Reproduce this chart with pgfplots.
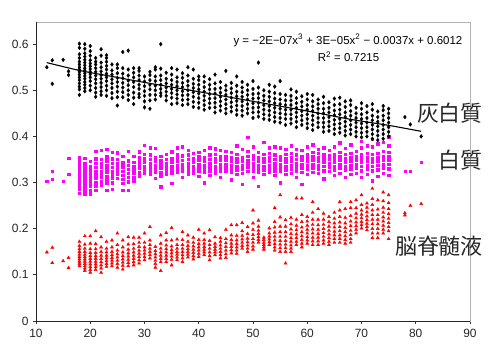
\documentclass[border=0pt]{standalone}
\usepackage{pgfplots}
\pgfplotsset{compat=1.18}
\usepackage{fontspec}
\setmainfont{Liberation Sans}
\newfontfamily\jp{Noto Sans CJK JP}
\definecolor{mag}{RGB}{255,0,255}
\definecolor{rd}{RGB}{255,0,0}
\begin{document}
\begin{tikzpicture}
\path[use as bounding box] (-36bp,-31bp) rectangle (464bp,321bp);
\begin{axis}[
  scale only axis, width=434bp, height=299bp,
  xmin=10, xmax=90, ymin=0, ymax=0.648,
  xtick={10,20,...,90}, ytick={0,0.1,0.2,0.3,0.4,0.5,0.6},
  yticklabel style={/pgf/number format/fixed,/pgf/number format/precision=1},
  /pgf/number format/assume math mode=true,
  tick label style={font=\fontsize{12}{14}\selectfont, black!85},
  xtick pos=left, ytick pos=left, tick align=outside,
  major tick length=3bp, tick style={black!80, line width=0.8pt},
  axis line style={black!30, line width=0.8pt},
  xticklabel style={yshift=-2bp},
  yticklabel style={xshift=-1bp},
  clip=false,
]
\addplot[only marks, mark=square*, mark size=1.2pt, color=mag] coordinates {
(12,.303)(13,.325)(13,.307)(15,.303)(16,.353)(16,.318)
(18,.277)(18,.285)(18,.292)(18,.299)(18,.306)(18,.312)(18,.318)(18,.324)(18,.330)(18,.337)(18,.345)(18,.354)
(19,.276)(19,.283)(19,.290)(19,.297)(19,.304)(19,.310)(19,.316)(19,.322)(19,.328)(19,.334)(19,.341)(19,.353)
(20,.276)(20,.284)(20,.292)(20,.300)(20,.307)(20,.314)(20,.320)(20,.327)(20,.334)(20,.346)
(21,.284)(21,.293)(21,.301)(21,.309)(21,.317)(21,.325)(21,.333)(21,.342)(21,.352)(21,.368)
(22,.295)(22,.303)(22,.311)(22,.318)(22,.325)(22,.333)(22,.341)(22,.350)(22,.370)
(23,.283)(23,.298)(23,.306)(23,.314)(23,.322)(23,.330)(23,.338)(23,.347)(23,.356)(23,.372)
(24,.286)(24,.300)(24,.309)(24,.317)(24,.325)(24,.333)(24,.342)(24,.352)(24,.366)
(25,.310)(25,.318)(25,.326)(25,.334)(25,.342)(25,.350)(25,.365)
(26,.284)(26,.298)(26,.307)(26,.316)(26,.325)(26,.334)(26,.343)(26,.357)
(27,.284)(27,.302)(27,.311)(27,.320)(27,.329)(27,.338)(27,.347)(27,.368)
(28,.304)(28,.312)(28,.320)(28,.328)(28,.336)(28,.344)(28,.357)
(29,.315)(29,.323)(29,.331)(29,.339)(29,.347)(29,.355)(29,.367)
(30,.320)(30,.328)(30,.336)(30,.344)(30,.352)(30,.362)(30,.381)
(31,.318)(31,.326)(31,.334)(31,.342)(31,.350)(31,.360)(31,.376)
(32,.310)(32,.322)(32,.330)(32,.338)(32,.346)(32,.354)(32,.374)
(33,.291)(33,.315)(33,.323)(33,.331)(33,.339)(33,.347)(33,.357)
(34,.318)(34,.326)(34,.334)(34,.342)(34,.350)(34,.362)
(35,.299)(35,.320)(35,.328)(35,.336)(35,.344)(35,.352)(35,.367)
(36,.322)(36,.330)(36,.338)(36,.346)(36,.354)(36,.362)(36,.376)
(37,.312)(37,.324)(37,.332)(37,.340)(37,.348)(37,.358)(37,.378)
(38,.318)(38,.326)(38,.334)(38,.342)(38,.350)(38,.360)(38,.370)
(39,.320)(39,.328)(39,.336)(39,.344)(39,.352)(39,.364)
(40,.314)(40,.324)(40,.332)(40,.340)(40,.348)(40,.356)(40,.366)
(41,.300)(41,.322)(41,.330)(41,.338)(41,.346)(41,.354)(41,.370)
(42,.316)(42,.326)(42,.334)(42,.342)(42,.350)(42,.360)(42,.376)
(43,.320)(43,.328)(43,.336)(43,.344)(43,.352)(43,.362)(43,.373)
(44,.312)(44,.324)(44,.332)(44,.340)(44,.348)(44,.356)(44,.370)
(45,.324)(45,.332)(45,.340)(45,.348)(45,.356)(45,.368)
(46,.306)(46,.322)(46,.330)(46,.338)(46,.346)(46,.354)(46,.366)
(47,.318)(47,.328)(47,.336)(47,.344)(47,.352)(47,.362)(47,.380)
(48,.296)(48,.320)(48,.330)(48,.338)(48,.346)(48,.354)(48,.372)
(49,.325)(49,.333)(49,.341)(49,.349)(49,.357)(49,.368)(49,.398)
(50,.312)(50,.326)(50,.334)(50,.342)(50,.350)(50,.358)(50,.378)
(51,.292)(51,.322)(51,.330)(51,.338)(51,.346)(51,.354)(51,.366)
(52,.318)(52,.328)(52,.336)(52,.344)(52,.352)(52,.362)(52,.388)
(53,.322)(53,.330)(53,.338)(53,.346)(53,.354)(53,.364)(53,.376)
(54,.316)(54,.326)(54,.334)(54,.342)(54,.350)(54,.360)(54,.378)
(55,.300)(55,.324)(55,.332)(55,.340)(55,.348)(55,.356)(55,.376)
(56,.318)(56,.328)(56,.336)(56,.344)(56,.352)(56,.362)(56,.372)
(57,.320)(57,.330)(57,.338)(57,.346)(57,.354)(57,.364)(57,.380)
(58,.312)(58,.326)(58,.334)(58,.342)(58,.350)(58,.360)(58,.372)
(59,.296)(59,.322)(59,.332)(59,.340)(59,.348)(59,.356)(59,.370)
(60,.318)(60,.330)(60,.338)(60,.346)(60,.354)(60,.362)(60,.378)
(61,.322)(61,.332)(61,.340)(61,.348)(61,.356)(61,.366)(61,.382)
(62,.320)(62,.330)(62,.338)(62,.346)(62,.354)(62,.364)(62,.372)
(63,.308)(63,.326)(63,.336)(63,.344)(63,.352)(63,.360)(63,.376)
(64,.324)(64,.334)(64,.342)(64,.350)(64,.358)(64,.370)
(65,.316)(65,.328)(65,.336)(65,.344)(65,.352)(65,.360)(65,.378)
(66,.320)(66,.332)(66,.340)(66,.348)(66,.356)(66,.366)(66,.386)
(67,.312)(67,.328)(67,.336)(67,.344)(67,.352)(67,.362)(67,.374)
(68,.318)(68,.330)(68,.338)(68,.346)(68,.354)(68,.364)(68,.382)
(69,.320)(69,.332)(69,.340)(69,.348)(69,.356)(69,.368)
(70,.312)(70,.326)(70,.336)(70,.344)(70,.352)(70,.360)(70,.376)(70,.390)
(71,.318)(71,.330)(71,.338)(71,.346)(71,.354)(71,.364)(71,.380)
(72,.304)(72,.326)(72,.336)(72,.344)(72,.352)(72,.362)(72,.378)(72,.394)
(73,.314)(73,.328)(73,.338)(73,.346)(73,.354)(73,.364)(73,.384)
(74,.320)(74,.332)(74,.340)(74,.348)(74,.356)(74,.368)(74,.388)
(75,.316)(75,.330)(75,.340)(75,.348)(75,.356)(75,.366)(75,.380)(75,.399)
(78,.325)(79,.324)(81,.344)
};
\addplot[only marks, mark=triangle*, mark size=1.8pt, color=rd] coordinates {
(12,.149)(13,.159)(13,.126)(15,.130)(16,.137)(16,.115)
(18,.119)(18,.124)(18,.129)(18,.134)(18,.139)(18,.144)(18,.150)(18,.156)(18,.163)(18,.172)
(19,.109)(19,.114)(19,.119)(19,.124)(19,.129)(19,.134)(19,.139)(19,.144)(19,.150)(19,.157)(19,.166)(19,.184)
(20,.105)(20,.111)(20,.117)(20,.123)(20,.129)(20,.135)(20,.141)(20,.148)(20,.156)(20,.168)(20,.184)
(21,.111)(21,.117)(21,.123)(21,.129)(21,.135)(21,.141)(21,.148)(21,.156)(21,.167)(21,.195)
(22,.105)(22,.114)(22,.121)(22,.128)(22,.135)(22,.142)(22,.150)(22,.160)(22,.182)
(23,.118)(23,.124)(23,.130)(23,.136)(23,.142)(23,.149)(23,.157)(23,.172)
(24,.119)(24,.125)(24,.131)(24,.137)(24,.143)(24,.150)(24,.160)(24,.175)
(25,.116)(25,.124)(25,.131)(25,.138)(25,.145)(25,.153)(25,.165)(25,.190)
(26,.112)(26,.120)(26,.127)(26,.134)(26,.141)(26,.149)(26,.160)(26,.175)
(27,.119)(27,.126)(27,.133)(27,.140)(27,.147)(27,.155)(27,.166)(27,.182)
(28,.121)(28,.128)(28,.135)(28,.142)(28,.149)(28,.157)(28,.167)(28,.181)
(29,.125)(29,.132)(29,.139)(29,.146)(29,.153)(29,.161)(29,.170)(29,.181)
(30,.132)(30,.139)(30,.146)(30,.153)(30,.160)(30,.170)(30,.190)
(31,.136)(31,.143)(31,.150)(31,.157)(31,.165)(31,.175)(31,.204)
(32,.116)(32,.124)(32,.131)(32,.138)(32,.145)(32,.152)(32,.161)
(33,.109)(33,.128)(33,.135)(33,.142)(33,.149)(33,.157)(33,.168)(33,.186)
(34,.128)(34,.135)(34,.142)(34,.149)(34,.156)(34,.164)(34,.175)(34,.191)
(35,.121)(35,.133)(35,.140)(35,.147)(35,.154)(35,.162)(35,.175)(35,.202)
(36,.132)(36,.138)(36,.144)(36,.150)(36,.157)(36,.165)(36,.177)
(37,.128)(37,.136)(37,.143)(37,.150)(37,.157)(37,.165)(37,.176)(37,.193)
(38,.138)(38,.144)(38,.150)(38,.156)(38,.163)(38,.172)(38,.186)
(39,.134)(39,.141)(39,.148)(39,.155)(39,.162)(39,.170)(39,.181)
(40,.139)(40,.146)(40,.153)(40,.160)(40,.167)(40,.176)(40,.198)
(41,.143)(41,.149)(41,.155)(41,.161)(41,.168)(41,.176)(41,.190)
(42,.132)(42,.141)(42,.149)(42,.157)(42,.165)(42,.174)(42,.197)
(43,.143)(43,.149)(43,.155)(43,.161)(43,.168)(43,.182)
(44,.136)(44,.143)(44,.150)(44,.157)(44,.164)(44,.172)(44,.180)
(45,.137)(45,.145)(45,.153)(45,.161)(45,.169)(45,.178)(45,.198)
(46,.147)(46,.154)(46,.161)(46,.168)(46,.176)(46,.186)(46,.208)
(47,.146)(47,.153)(47,.160)(47,.167)(47,.175)(47,.185)(47,.208)
(48,.157)(48,.163)(48,.170)(48,.177)(48,.185)(48,.195)(48,.213)
(49,.150)(49,.157)(49,.164)(49,.171)(49,.179)(49,.189)(49,.204)
(50,.155)(50,.162)(50,.170)(50,.178)(50,.187)(50,.198)(50,.212)(50,.240)
(51,.170)(51,.176)(51,.182)(51,.189)(51,.196)(51,.205)(51,.218)
(52,.155)(52,.160)(52,.165)(52,.170)(52,.176)(52,.181)
(53,.165)(53,.171)(53,.177)(53,.183)(53,.190)(53,.201)
(54,.153)(54,.160)(54,.167)(54,.175)(54,.183)(54,.192)(54,.203)(54,.215)(54,.245)
(55,.150)(55,.158)(55,.166)(55,.174)(55,.183)(55,.193)(55,.205)(55,.225)(55,.273)
(56,.125)(56,.150)(56,.158)(56,.166)(56,.174)(56,.183)(56,.193)(56,.205)(56,.219)
(57,.150)(57,.157)(57,.164)(57,.172)(57,.180)(57,.189)(57,.199)(57,.210)(57,.224)
(58,.165)(58,.172)(58,.180)(58,.188)(58,.197)(58,.207)(58,.220)(58,.266)
(59,.160)(59,.168)(59,.176)(59,.184)(59,.193)(59,.203)(59,.215)(59,.230)(59,.266)
(60,.168)(60,.175)(60,.182)(60,.190)(60,.198)(60,.207)(60,.216)(60,.226)
(61,.165)(61,.173)(61,.181)(61,.190)(61,.199)(61,.209)(61,.220)(61,.235)(61,.258)
(62,.165)(62,.173)(62,.181)(62,.189)(62,.198)(62,.208)(62,.220)(62,.243)
(63,.168)(63,.175)(63,.183)(63,.191)(63,.200)(63,.209)(63,.220)(63,.233)
(64,.165)(64,.172)(64,.180)(64,.188)(64,.196)(64,.205)(64,.215)(64,.226)
(65,.170)(65,.178)(65,.186)(65,.194)(65,.203)(65,.212)(65,.222)(65,.235)
(66,.170)(66,.178)(66,.186)(66,.195)(66,.204)(66,.214)(66,.226)(66,.240)(66,.258)
(67,.168)(67,.176)(67,.184)(67,.193)(67,.202)(67,.212)(67,.224)(67,.243)
(68,.170)(68,.178)(68,.187)(68,.196)(68,.206)(68,.216)(68,.228)(68,.245)(68,.258)
(69,.190)(69,.198)(69,.206)(69,.214)(69,.223)(69,.233)(69,.245)(69,.262)
(70,.201)(70,.208)(70,.215)(70,.223)(70,.231)(70,.240)(70,.252)(70,.273)
(71,.197)(71,.204)(71,.211)(71,.219)(71,.227)(71,.236)(71,.246)(71,.255)
(72,.180)(72,.190)(72,.200)(72,.210)(72,.220)(72,.230)(72,.240)(72,.252)(72,.265)(72,.287)
(73,.180)(73,.190)(73,.200)(73,.210)(73,.220)(73,.230)(73,.242)(73,.262)
(74,.190)(74,.198)(74,.207)(74,.216)(74,.225)(74,.235)(74,.246)(74,.260)(74,.279)
(75,.178)(75,.195)(75,.204)(75,.213)(75,.222)(75,.232)(75,.243)(75,.256)(75,.273)
(78,.234)(78,.229)(79,.250)(81,.254)
};
\addplot[only marks, mark=diamond*, mark size=1.9pt, color=black] coordinates {
(12,.550)(13,.565)(13,.514)(15,.566)(16,.541)(16,.533)
(18,.490)(18,.502)(18,.508)(18,.515)(18,.522)(18,.528)(18,.534)(18,.540)(18,.545)(18,.550)(18,.556)(18,.562)(18,.570)(18,.578)(18,.592)(18,.601)
(19,.498)(19,.505)(19,.512)(19,.518)(19,.525)(19,.531)(19,.537)(19,.543)(19,.548)(19,.554)(19,.560)(19,.566)(19,.573)(19,.580)(19,.590)(19,.600)
(20,.500)(20,.510)(20,.520)(20,.528)(20,.535)(20,.540)(20,.546)(20,.552)(20,.558)(20,.565)(20,.575)(20,.585)(20,.596)
(21,.486)(21,.495)(21,.505)(21,.515)(21,.524)(21,.532)(21,.540)(21,.548)(21,.556)(21,.562)(21,.570)
(22,.490)(22,.498)(22,.507)(22,.516)(22,.525)(22,.533)(22,.541)(22,.550)(22,.560)(22,.575)(22,.589)
(23,.488)(23,.500)(23,.510)(23,.520)(23,.528)(23,.536)(23,.545)(23,.553)(23,.562)(23,.570)(23,.576)
(24,.483)(24,.494)(24,.505)(24,.515)(24,.524)(24,.534)(24,.543)(24,.556)
(25,.467)(25,.485)(25,.497)(25,.508)(25,.518)(25,.527)(25,.537)(25,.548)(25,.556)
(26,.485)(26,.496)(26,.506)(26,.516)(26,.526)(26,.536)(26,.548)(26,.583)
(27,.479)(27,.490)(27,.500)(27,.511)(27,.521)(27,.532)(27,.545)(27,.586)
(28,.470)(28,.484)(28,.495)(28,.507)(28,.518)(28,.528)(28,.538)(28,.548)
(29,.485)(29,.492)(29,.503)(29,.512)(29,.522)(29,.532)(29,.542)(29,.548)
(30,.463)(30,.476)(30,.488)(30,.498)(30,.509)(30,.519)(30,.530)
(31,.460)(31,.478)(31,.490)(31,.502)(31,.512)(31,.522)(31,.533)(31,.540)
(32,.480)(32,.490)(32,.500)(32,.510)(32,.520)(32,.530)(32,.545)(32,.550)
(33,.488)(33,.494)(33,.503)(33,.512)(33,.522)(33,.532)(33,.547)(33,.600)
(34,.478)(34,.488)(34,.497)(34,.506)(34,.515)(34,.525)(34,.538)
(35,.470)(35,.484)(35,.494)(35,.503)(35,.512)(35,.522)(35,.534)(35,.548)
(36,.472)(36,.482)(36,.491)(36,.500)(36,.509)(36,.518)(36,.528)(36,.545)
(37,.468)(37,.479)(37,.489)(37,.498)(37,.507)(37,.516)(37,.527)(37,.537)
(38,.470)(38,.480)(38,.490)(38,.500)(38,.510)(38,.520)(38,.532)(38,.550)
(39,.464)(39,.475)(39,.486)(39,.496)(39,.505)(39,.514)(39,.525)(39,.545)
(40,.462)(40,.473)(40,.483)(40,.493)(40,.502)(40,.512)(40,.522)(40,.530)
(41,.458)(41,.468)(41,.478)(41,.488)(41,.497)(41,.507)(41,.518)(41,.530)
(42,.462)(42,.472)(42,.482)(42,.492)(42,.502)(42,.512)(42,.524)
(43,.452)(43,.463)(43,.473)(43,.483)(43,.493)(43,.503)(43,.515)(43,.534)
(44,.456)(44,.466)(44,.476)(44,.486)(44,.495)(44,.505)(44,.518)
(45,.450)(45,.460)(45,.470)(45,.480)(45,.490)(45,.500)(45,.510)(45,.542)
(46,.454)(46,.464)(46,.474)(46,.484)(46,.494)(46,.504)(46,.516)
(47,.447)(47,.457)(47,.467)(47,.477)(47,.487)(47,.497)(47,.510)(47,.530)
(48,.445)(48,.456)(48,.466)(48,.476)(48,.486)(48,.496)(48,.506)(48,.518)
(49,.450)(49,.460)(49,.470)(49,.480)(49,.490)(49,.500)(49,.512)
(50,.440)(50,.452)(50,.462)(50,.472)(50,.482)(50,.492)(50,.503)(50,.520)
(51,.443)(51,.453)(51,.463)(51,.473)(51,.483)(51,.493)(51,.506)(51,.560)
(52,.438)(52,.448)(52,.458)(52,.468)(52,.478)(52,.488)(52,.500)
(53,.436)(53,.446)(53,.456)(53,.466)(53,.476)(53,.486)(53,.497)(53,.512)
(54,.432)(54,.442)(54,.452)(54,.462)(54,.472)(54,.482)(54,.494)(54,.508)
(55,.430)(55,.440)(55,.450)(55,.460)(55,.470)(55,.480)(55,.492)(55,.520)
(56,.425)(56,.438)(56,.448)(56,.458)(56,.468)(56,.478)(56,.490)
(57,.428)(57,.438)(57,.448)(57,.458)(57,.468)(57,.478)(57,.488)(57,.502)
(58,.420)(58,.432)(58,.442)(58,.452)(58,.462)(58,.472)(58,.483)(58,.497)
(59,.425)(59,.435)(59,.445)(59,.455)(59,.465)(59,.475)(59,.487)
(60,.418)(60,.428)(60,.438)(60,.448)(60,.458)(60,.468)(60,.480)(60,.492)
(61,.414)(61,.425)(61,.435)(61,.445)(61,.455)(61,.465)(61,.476)(61,.490)
(62,.420)(62,.430)(62,.440)(62,.450)(62,.460)(62,.470)(62,.480)
(63,.410)(63,.420)(63,.430)(63,.440)(63,.450)(63,.460)(63,.472)(63,.486)
(64,.412)(64,.422)(64,.432)(64,.442)(64,.452)(64,.462)(64,.474)
(65,.405)(65,.416)(65,.426)(65,.436)(65,.446)(65,.456)(65,.468)(65,.482)
(66,.408)(66,.418)(66,.428)(66,.438)(66,.448)(66,.458)(66,.470)(66,.484)
(67,.402)(67,.412)(67,.422)(67,.432)(67,.442)(67,.452)(67,.464)(67,.476)
(68,.405)(68,.415)(68,.425)(68,.435)(68,.445)(68,.455)(68,.468)(68,.478)
(69,.400)(69,.410)(69,.420)(69,.430)(69,.440)(69,.450)(69,.462)
(70,.398)(70,.408)(70,.418)(70,.428)(70,.438)(70,.448)(70,.460)(70,.472)
(71,.400)(71,.410)(71,.420)(71,.430)(71,.440)(71,.452)(71,.466)
(72,.395)(72,.405)(72,.415)(72,.425)(72,.435)(72,.445)(72,.458)(72,.470)
(73,.392)(73,.402)(73,.412)(73,.422)(73,.432)(73,.442)(73,.454)
(74,.395)(74,.405)(74,.415)(74,.425)(74,.435)(74,.445)(74,.457)(74,.466)
(75,.400)(75,.410)(75,.420)(75,.430)(75,.440)(75,.450)(75,.460)
(78,.442)(79,.426)(81,.400)
};
\addplot[black, line width=1.1pt, smooth, no marks] coordinates {
(12,.560)(18,.543)(24,.530)(30,.517)(40,.497)(50,.476)(60,.455)(68,.437)(75,.424)(81,.411)
};
\draw[black!85, line width=0.9pt] (rel axis cs:0,1) -- (rel axis cs:0,0) -- (rel axis cs:1,0);
\node[font=\fontsize{11.5}{13}\selectfont, inner sep=0pt] at (axis cs:67.5,0.608) {y = −2E−07x\textsuperscript{3} + 3E−05x\textsuperscript{2} − 0.0037x + 0.6012};
\node[font=\fontsize{11.5}{13}\selectfont, inner sep=0pt] at (axis cs:67.6,0.573) {R\textsuperscript{2} = 0.7215};
\node[anchor=east, inner sep=0pt, font=\jp\fontsize{22}{24}\selectfont, black!85] at (axis cs:92.4,0.450) {灰白質};
\node[anchor=east, inner sep=0pt, font=\jp\fontsize{22}{24}\selectfont, black!85] at (axis cs:92.4,0.348) {白質};
\node[anchor=east, inner sep=0pt, font=\jp\fontsize{22}{24}\selectfont, black!85] at (axis cs:92.4,0.162) {脳脊髄液};
\end{axis}
\end{tikzpicture}
\end{document}
